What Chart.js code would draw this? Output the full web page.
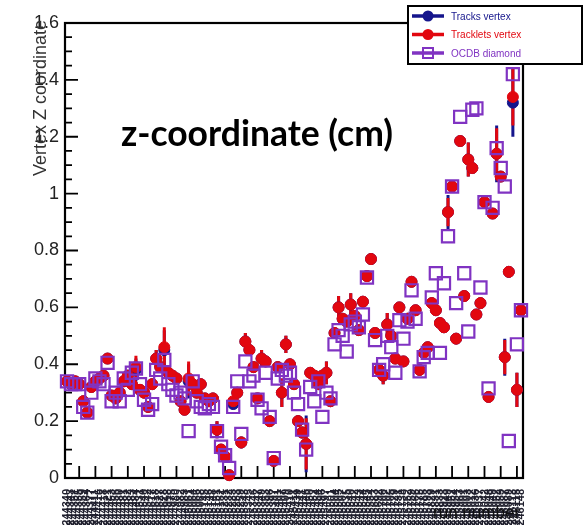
<!DOCTYPE html>
<html>
<head>
<meta charset="utf-8">
<script src="https://cdn.jsdelivr.net/npm/chart.js@4.4.1/dist/chart.umd.min.js"></script>
<style>
  html, body { margin: 0; padding: 0; background: #fff; }
  #wrap { width: 585px; height: 525px; }
</style>
</head>
<body>
<div id="wrap"><canvas id="vtx" width="585" height="525"></canvas></div>
<script>
// run numbers along the x axis
const runs = [
  244340, 244343, 244351, 244355, 244359, 244364, 244377, 244411, 244416, 244418,
  244421, 244453, 244456, 244480, 244481, 244482, 244483, 244484, 244531, 244540,
  244542, 244617, 244618, 244627, 244628, 244918, 244975, 244980, 244982, 244983,
  245061, 245064, 245066, 245068, 245145, 245146, 245148, 245151, 245152, 245231,
  245232, 245233, 245253, 245259, 245343, 245345, 245346, 245347, 245349, 245353,
  245396, 245397, 245401, 245407, 245409, 245410, 245411, 245439, 245441, 245446,
  245450, 245452, 245454, 245496, 245497, 245501, 245504, 245505, 245507, 245535,
  245540, 245542, 245543, 245544, 245545, 245554, 245683, 245692, 245700, 245702,
  245705, 245729, 245731, 245738, 245752, 245759, 245766, 245775, 245785, 245793,
  245829, 245831, 245833, 245923, 245949, 245952, 245954, 245963, 246001, 246003,
  246012, 246036, 246037, 246042, 246048, 246049, 246052, 246053, 246087, 246089,
  246113, 246115, 246148
];

// vertex z (cm) from global tracks
const tracksZ = [
  0.34, 0.33, 0.34, 0.33, 0.27, 0.23, 0.32, 0.34, 0.35, 0.36,
  0.42, 0.29, 0.28, 0.30, 0.34, 0.36, 0.33, 0.38, 0.31, 0.30,
  0.25, 0.33, 0.42, 0.39, 0.45, 0.37, 0.36, 0.35, 0.27, 0.24,
  0.34, 0.33, 0.30, 0.33, 0.28, 0.27, 0.28, 0.17, 0.10, 0.075,
  0.01, 0.26, 0.30, 0.125, 0.48, 0.45, 0.39, 0.28, 0.42, 0.41,
  0.20, 0.06, 0.39, 0.30, 0.47, 0.40, 0.33, 0.20, 0.16, 0.12,
  0.37, 0.36, 0.33, 0.36, 0.37, 0.27, 0.51, 0.60, 0.56, 0.55,
  0.61, 0.57, 0.52, 0.62, 0.71, 0.77, 0.51, 0.38, 0.36, 0.54,
  0.50, 0.42, 0.60, 0.41, 0.56, 0.69, 0.59, 0.38, 0.44, 0.46,
  0.615, 0.59, 0.545, 0.53, 0.935, 1.025, 0.49, 1.185, 0.64, 1.12,
  1.09, 0.575, 0.615, 0.97, 0.285, 0.93, 1.14, 1.06, 0.425, 0.725,
  1.32, 0.31, 0.59
];
const tracksErr = [
  0.01, 0.01, 0.01, 0.01, 0.015, 0.015, 0.01, 0.01, 0.01, 0.01,
  0.015, 0.01, 0.01, 0.01, 0.01, 0.01, 0.01, 0.04, 0.01, 0.01,
  0.01, 0.01, 0.03, 0.01, 0.07, 0.01, 0.01, 0.01, 0.015, 0.01,
  0.06, 0.01, 0.01, 0.01, 0.01, 0.01, 0.01, 0.03, 0.02, 0.02,
  0.01, 0.01, 0.02, 0.02, 0.03, 0.01, 0.01, 0.01, 0.03, 0.01,
  0.01, 0.01, 0.01, 0.05, 0.03, 0.01, 0.01, 0.02, 0.02, 0.10,
  0.01, 0.01, 0.01, 0.01, 0.04, 0.01, 0.01, 0.04, 0.01, 0.01,
  0.04, 0.01, 0.01, 0.01, 0.01, 0.02, 0.01, 0.01, 0.03, 0.04,
  0.01, 0.01, 0.01, 0.01, 0.01, 0.01, 0.01, 0.01, 0.01, 0.01,
  0.01, 0.01, 0.01, 0.01, 0.06, 0.01, 0.01, 0.01, 0.01, 0.06,
  0.01, 0.01, 0.01, 0.01, 0.01, 0.01, 0.10, 0.01, 0.065, 0.02,
  0.12, 0.06, 0.01
];

// vertex z (cm) from SPD tracklets
const trackletsZ = [
  0.34, 0.33, 0.34, 0.33, 0.27, 0.23, 0.32, 0.34, 0.35, 0.36,
  0.42, 0.29, 0.28, 0.30, 0.34, 0.36, 0.33, 0.39, 0.31, 0.30,
  0.25, 0.33, 0.42, 0.39, 0.46, 0.37, 0.36, 0.35, 0.27, 0.24,
  0.35, 0.33, 0.30, 0.33, 0.28, 0.27, 0.28, 0.17, 0.10, 0.075,
  0.01, 0.27, 0.30, 0.125, 0.48, 0.45, 0.39, 0.28, 0.42, 0.41,
  0.20, 0.06, 0.39, 0.30, 0.47, 0.40, 0.33, 0.20, 0.16, 0.12,
  0.37, 0.36, 0.33, 0.36, 0.37, 0.27, 0.51, 0.60, 0.56, 0.55,
  0.61, 0.57, 0.52, 0.62, 0.71, 0.77, 0.51, 0.38, 0.36, 0.54,
  0.50, 0.42, 0.60, 0.41, 0.56, 0.69, 0.59, 0.38, 0.44, 0.46,
  0.615, 0.59, 0.545, 0.53, 0.935, 1.025, 0.49, 1.185, 0.64, 1.12,
  1.09, 0.575, 0.615, 0.97, 0.285, 0.93, 1.14, 1.06, 0.425, 0.725,
  1.34, 0.31, 0.59
];
const trackletsErr = [
  0.01, 0.01, 0.01, 0.01, 0.015, 0.015, 0.01, 0.01, 0.01, 0.01,
  0.015, 0.01, 0.01, 0.01, 0.01, 0.01, 0.01, 0.04, 0.01, 0.01,
  0.01, 0.01, 0.03, 0.01, 0.07, 0.01, 0.01, 0.01, 0.015, 0.01,
  0.06, 0.01, 0.01, 0.01, 0.01, 0.01, 0.01, 0.03, 0.02, 0.02,
  0.01, 0.01, 0.02, 0.02, 0.03, 0.01, 0.01, 0.01, 0.03, 0.01,
  0.01, 0.01, 0.01, 0.05, 0.03, 0.01, 0.01, 0.02, 0.02, 0.09,
  0.01, 0.01, 0.01, 0.01, 0.04, 0.01, 0.01, 0.04, 0.01, 0.01,
  0.04, 0.01, 0.01, 0.01, 0.01, 0.02, 0.01, 0.01, 0.03, 0.04,
  0.01, 0.01, 0.01, 0.01, 0.01, 0.01, 0.01, 0.01, 0.01, 0.01,
  0.01, 0.01, 0.01, 0.01, 0.05, 0.01, 0.01, 0.01, 0.01, 0.06,
  0.01, 0.01, 0.01, 0.01, 0.01, 0.01, 0.09, 0.01, 0.06, 0.02,
  0.10, 0.06, 0.01
];

// diamond z position stored in OCDB
const ocdbZ = [
  0.34, 0.33, 0.33, 0.33, 0.25, 0.23, 0.30, 0.35, 0.34, 0.33,
  0.405, 0.27, 0.30, 0.27, 0.35, 0.31, 0.37, 0.385, 0.33, 0.275,
  0.24, 0.26, 0.38, 0.35, 0.415, 0.33, 0.31, 0.29, 0.30, 0.28,
  0.165, 0.34, 0.27, 0.25, 0.245, 0.26, 0.25, 0.165, 0.11, 0.08,
  0.035, 0.25, 0.34, 0.155, 0.41, 0.34, 0.36, 0.275, 0.245, 0.37,
  0.215, 0.07, 0.35, 0.38, 0.36, 0.37, 0.30, 0.26, 0.17, 0.10,
  0.32, 0.27, 0.34, 0.215, 0.30, 0.28, 0.47, 0.52, 0.50, 0.445,
  0.54, 0.55, 0.53, 0.575, 0.705, null, 0.485, 0.38, 0.40, 0.50,
  0.46, 0.37, 0.555, 0.49, 0.55, 0.66, 0.56, 0.375, 0.425, 0.44,
  0.635, 0.72, 0.44, 0.685, 0.85, 1.025, 0.615, 1.27, 0.72, 0.515,
  1.295, 1.30, 0.67, 0.97, 0.315, 0.95, 1.16, 1.09, 1.025, 0.13,
  1.42, 0.47, 0.59
];

const NAVY = "#15158c";
const RED = "#e2070f";
const VIOLET = "#8033c2";

// ROOT-like frame: thick border, ticks pointing inwards
const frame = {
  id: "frame",
  beforeDatasetsDraw(chart) {
    const { ctx, chartArea: a, scales: { x, y } } = chart;
    ctx.save();
    ctx.strokeStyle = "#000";
    ctx.lineWidth = 2.2;
    ctx.strokeRect(a.left, a.top, a.right - a.left, a.bottom - a.top);
    ctx.lineWidth = 1.8;
    ctx.beginPath();
    for (let k = 0; k <= 32; k++) {
      const py = y.getPixelForValue(k * 0.05);
      const len = k % 4 === 0 ? 13 : 7;
      ctx.moveTo(a.left, py);
      ctx.lineTo(a.left + len, py);
    }
    for (let i = 3; i < runs.length; i += 4) {
      const px = x.getPixelForValue(i);
      ctx.moveTo(px, a.bottom);
      ctx.lineTo(px, a.bottom - 12);
    }
    ctx.stroke();
    ctx.restore();
  }
};

// vertical error bars, drawn under the markers
const errorBars = {
  id: "errorBars",
  beforeDatasetsDraw(chart) {
    const { ctx, chartArea: a, scales: { x, y } } = chart;
    ctx.save();
    ctx.beginPath();
    ctx.rect(a.left, a.top, a.right - a.left, a.bottom - a.top);
    ctx.clip();
    const sets = chart.data.datasets.filter(d => d.errors).sort((p, q) => q.order - p.order);
    sets.forEach(ds => {
      ctx.strokeStyle = ds.borderColor;
      ctx.lineWidth = 3;
      ctx.beginPath();
      ds.data.forEach((v, i) => {
        if (v == null) return;
        const px = x.getPixelForValue(i);
        ctx.moveTo(px, y.getPixelForValue(v - ds.errors[i]));
        ctx.lineTo(px, y.getPixelForValue(v + ds.errors[i]));
      });
      ctx.stroke();
    });
    ctx.restore();
  }
};

// axis titles, slide caption and the boxed legend
const labels = {
  id: "labels",
  afterDraw(chart) {
    const { ctx } = chart;
    ctx.save();
    ctx.fillStyle = "#333";
    ctx.font = '18px "Liberation Sans", Arial, sans-serif';
    ctx.translate(46, 20);
    ctx.rotate(-Math.PI / 2);
    ctx.textAlign = "right";
    ctx.fillText("Vertex Z coordinate", 0, 0);
    ctx.restore();

    ctx.save();
    ctx.fillStyle = "#111";
    ctx.font = '17px "Liberation Sans", Arial, sans-serif';
    ctx.textAlign = "right";
    ctx.fillText("run number", 520, 518);
    ctx.fillStyle = "#000";
    ctx.font = 'bold 35.5px Lato, sans-serif';
    ctx.textAlign = "left";
    ctx.fillText("z-coordinate (cm)", 121, 146);
    ctx.restore();

    // legend
    ctx.save();
    ctx.fillStyle = "#fff";
    ctx.fillRect(408, 6, 174, 58);
    ctx.strokeStyle = "#000";
    ctx.lineWidth = 2;
    ctx.strokeRect(408, 6, 174, 58);
    const rows = [
      { text: "Tracks vertex", color: NAVY, style: "circle" },
      { text: "Tracklets vertex", color: RED, style: "circle" },
      { text: "OCDB diamond", color: VIOLET, style: "rect" }
    ];
    ctx.font = '10px "Liberation Sans", Arial, sans-serif';
    ctx.textBaseline = "middle";
    rows.forEach((r, k) => {
      const cy = 16 + k * 18.5;
      ctx.strokeStyle = r.color;
      ctx.fillStyle = r.color;
      ctx.lineWidth = 3.5;
      ctx.beginPath();
      ctx.moveTo(412, cy);
      ctx.lineTo(444, cy);
      ctx.stroke();
      if (r.style === "circle") {
        ctx.beginPath();
        ctx.arc(428, cy, 5.5, 0, Math.PI * 2);
        ctx.fill();
      } else {
        ctx.lineWidth = 2;
        ctx.strokeRect(423, cy - 5, 10, 10);
      }
      ctx.fillText(r.text, 451, cy + 1);
    });
    ctx.restore();
  }
};

const pointSet = (label, data, color, order, extra) => Object.assign({
  label, data, order,
  showLine: false,
  borderColor: color,
  backgroundColor: color,
  pointBackgroundColor: color,
  pointBorderColor: color,
  pointStyle: "circle",
  pointRadius: 5.5,
  pointBorderWidth: 1,
  clip: false
}, extra);

new Chart(document.getElementById("vtx"), {
  type: "line",
  data: {
    labels: runs.map(String),
    datasets: [
      pointSet("OCDB diamond", ocdbZ, VIOLET, 0, {
        pointStyle: "rect", pointRadius: 8.6, pointBorderWidth: 2.2,
        pointBackgroundColor: "rgba(0,0,0,0)"
      }),
      pointSet("Tracklets vertex", trackletsZ, RED, 1, { errors: trackletsErr }),
      pointSet("Tracks vertex", tracksZ, NAVY, 2, { errors: tracksErr })
    ]
  },
  options: {
    responsive: false,
    animation: false,
    devicePixelRatio: 1,
    layout: { padding: { top: 23, right: 62, left: 0, bottom: 0 } },
    plugins: { legend: { display: false }, tooltip: { enabled: false } },
    scales: {
      x: {
        type: "category",
        offset: true,
        grid: { display: false },
        border: { display: false },
        ticks: {
          autoSkip: false, minRotation: 90, maxRotation: 90, padding: 3,
          color: "#20202e", font: { family: "Liberation Sans", size: 11, weight: "bold" }
        },
        afterFit(s) { s.height = 47; }
      },
      y: {
        min: 0, max: 1.6,
        grid: { display: false, drawTicks: false },
        border: { display: false },
        ticks: {
          stepSize: 0.2, padding: 6, color: "#222",
          font: { family: "Liberation Sans", size: 18 },
          callback: v => String(+v.toFixed(1))
        },
        afterFit(s) { s.width = 65; }
      }
    }
  },
  plugins: [frame, errorBars, labels]
});
</script>
</body>
</html>
